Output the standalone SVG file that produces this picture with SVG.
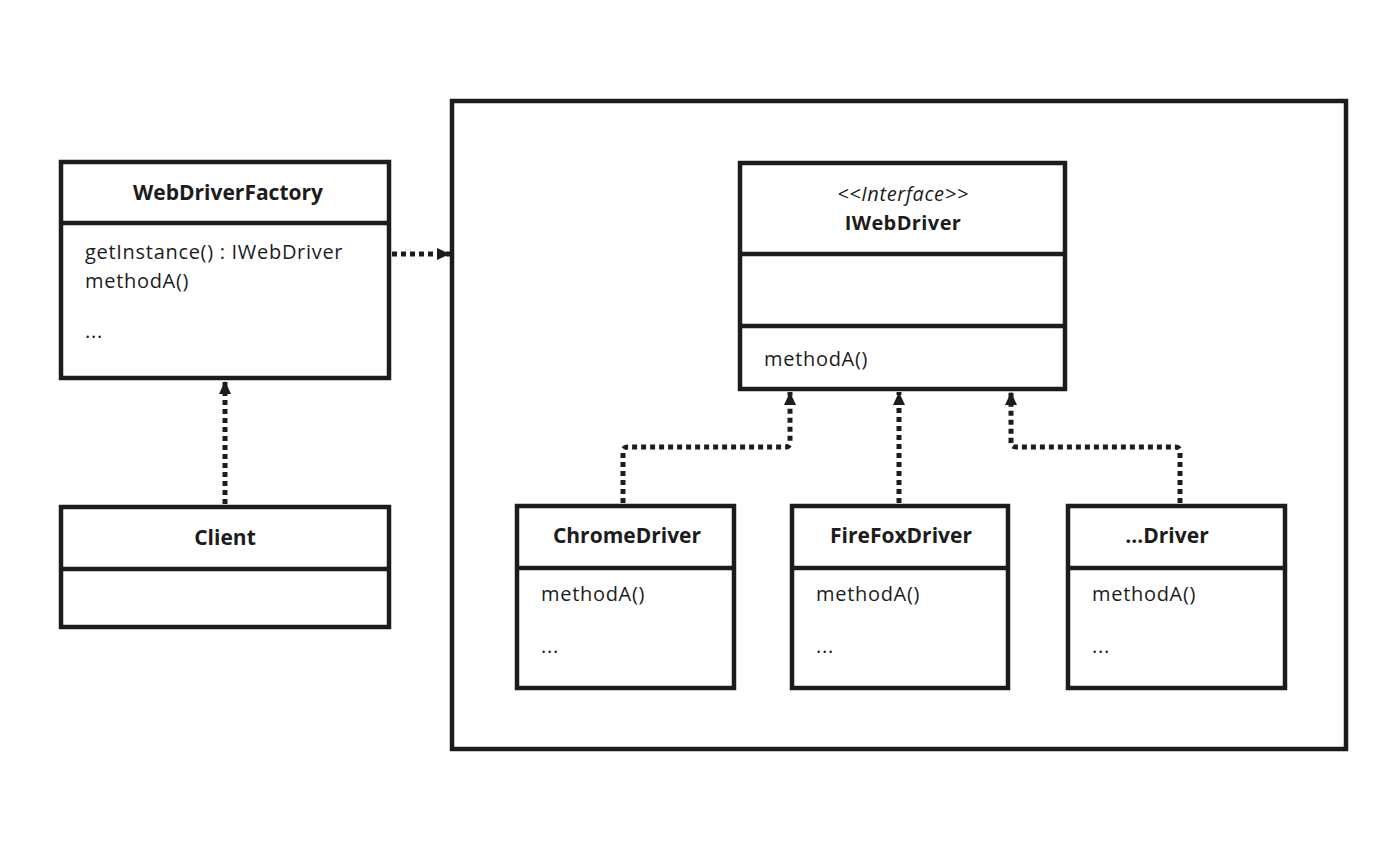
<svg xmlns="http://www.w3.org/2000/svg" width="1400" height="857" viewBox="0 0 1400 857">
<defs>
<style>
.box{fill:#fff;stroke:#1c1c1c;stroke-width:4.5}
.div{stroke:#1c1c1c;stroke-width:4.5}
.title{font-family:"Open Sans",Lato,sans-serif;font-weight:bold;font-size:21px;fill:#1c1c1c;text-anchor:middle}
.txt{font-family:"Open Sans",Lato,sans-serif;font-size:20px;letter-spacing:0.7px;fill:#1c1c1c}
.it{font-family:"Open Sans",Lato,sans-serif;font-style:italic;font-size:20px;letter-spacing:0.6px;fill:#1c1c1c;text-anchor:middle}
.con{fill:none;stroke:#1c1c1c;stroke-width:5;stroke-dasharray:5 4;stroke-linejoin:round}
</style>
<marker id="arr" markerUnits="userSpaceOnUse" markerWidth="14" markerHeight="14" viewBox="0 0 14 14" refX="13" refY="7" orient="auto">
<path d="M0,1 L13,7 L0,13 Z" fill="#1c1c1c"/>
</marker>
</defs>
<rect width="1400" height="857" fill="#fff"/>
<g id="container"><rect class="box" x="452" y="101" width="894" height="648"/></g>
<g id="factory">
<rect class="box" x="61" y="162" width="328" height="216"/>
<line class="div" x1="61" y1="223" x2="389" y2="223"/>
<text class="title" x="228" y="200">WebDriverFactory</text>
<text class="txt" x="85" y="259">getInstance() : IWebDriver</text>
<text class="txt" x="85" y="288">methodA()</text>
<text class="txt" x="85" y="338">...</text>
</g>
<g id="client">
<rect class="box" x="61" y="507" width="328" height="120"/>
<line class="div" x1="61" y1="569" x2="389" y2="569"/>
<text class="title" x="225" y="545">Client</text>
</g>
<g id="iwebdriver">
<rect class="box" x="740" y="163" width="325" height="226"/>
<line class="div" x1="740" y1="254" x2="1065" y2="254"/>
<line class="div" x1="740" y1="326" x2="1065" y2="326"/>
<text class="it" x="903" y="201">&lt;&lt;Interface&gt;&gt;</text>
<text class="title" x="903" y="230" style="font-size:20px;letter-spacing:0.4px">IWebDriver</text>
<text class="txt" x="764" y="366">methodA()</text>
</g>
<g id="chrome">
<rect class="box" x="517" y="506" width="217" height="182"/>
<line class="div" x1="517" y1="568" x2="734" y2="568"/>
<text class="title" x="627" y="543">ChromeDriver</text>
<text class="txt" x="541" y="601">methodA()</text>
<text class="txt" x="541" y="653">...</text>
</g>
<g id="firefox">
<rect class="box" x="792" y="506" width="216" height="182"/>
<line class="div" x1="792" y1="568" x2="1008" y2="568"/>
<text class="title" x="901" y="543">FireFoxDriver</text>
<text class="txt" x="816" y="601">methodA()</text>
<text class="txt" x="816" y="653">...</text>
</g>
<g id="otherdriver">
<rect class="box" x="1068" y="506" width="217" height="182"/>
<line class="div" x1="1068" y1="568" x2="1285" y2="568"/>
<text class="title" x="1167" y="543">...Driver</text>
<text class="txt" x="1092" y="601">methodA()</text>
<text class="txt" x="1092" y="653">...</text>
</g>
<g id="connectors">
<path class="con" d="M225,504 L225,381" marker-end="url(#arr)"/>
<path class="con" d="M392,254 L450,254" marker-end="url(#arr)"/>
<path class="con" d="M623,503 L623,452 Q623,447 628,447 L785,447 Q790,447 790,442 L790,392" marker-end="url(#arr)"/>
<path class="con" d="M899,503 L899,392" marker-end="url(#arr)"/>
<path class="con" d="M1180,503 L1180,452 Q1180,447 1175,447 L1016,447 Q1011,447 1011,442 L1011,392" marker-end="url(#arr)"/>
</g>
</svg>
